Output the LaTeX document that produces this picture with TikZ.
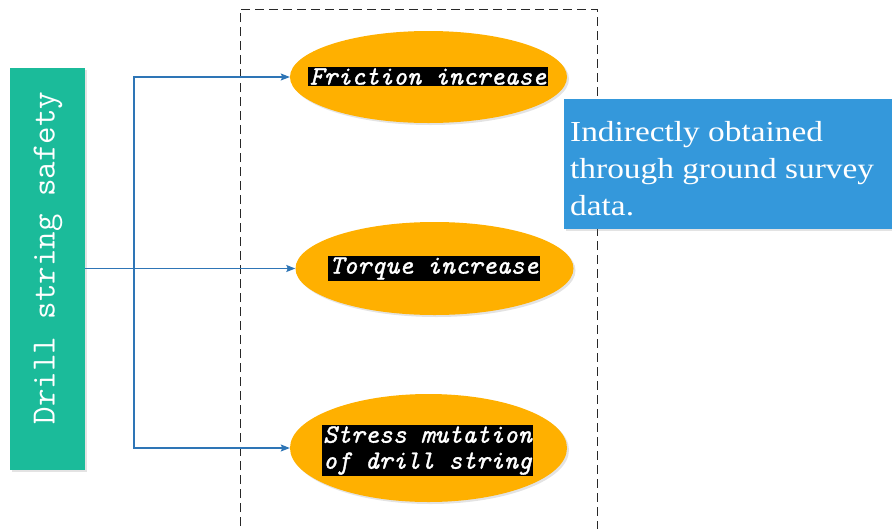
\documentclass[tikz,border=0pt]{standalone}
\usepackage{fontspec}
\setmainfont{Liberation Serif}
\newfontfamily\notefont[FakeStretch=1.15]{Liberation Serif}
\setmonofont{Latin Modern Mono}
\newfontfamily\ovalfont[FakeBold=1.2]{Latin Modern Mono}
\usetikzlibrary{shapes.geometric,shadows,arrows.meta}
\definecolor{boxgreen}{RGB}{27,187,154}
\definecolor{boxblue}{RGB}{52,152,219}
\definecolor{linkblue}{RGB}{46,117,182}
\definecolor{ovalorange}{RGB}{255,176,0}
\definecolor{frame}{RGB}{40,40,40}
\tikzset{
  softshadow/.style={drop shadow={opacity=0.22,shadow xshift=2pt,shadow yshift=-2pt}},
  oval/.style={ellipse,fill=ovalorange,inner sep=0pt,softshadow},
  ovaltext/.style={fill=black,text=white,inner sep=1.5pt,font=\ovalfont\itshape\fontsize{26.5}{26}\selectfont,align=left},
  link/.style={draw=linkblue,line width=1.1pt,-{Stealth[length=9pt,width=7pt,inset=1.5pt]}},
  framebox/.style={draw=frame,line width=1pt,dash pattern=on 9pt off 5pt},
}
\begin{document}
\begin{tikzpicture}[x=1pt,y=-1pt]
\useasboundingbox (0,0) rectangle (892,528);
\clip (0,0) rectangle (892,528);

% dashed frame around the indicators
\draw[framebox] (240,540) -- (240,9) -- (597,9) -- (597,540);

% left category block
\node[fill=boxgreen,minimum width=75pt,minimum height=402pt,inner sep=0pt,softshadow] (g) at (47.5,269) {};
\node[rotate=90,text=white,font=\ttfamily\fontsize{34}{34}\selectfont] (gt) at (48,258) {Drill string safety};

% indicator ovals
\node[oval,minimum width=277pt,minimum height=92pt] (e1) at (428.5,77) {};
\node[oval,minimum width=278pt,minimum height=93pt] (e2) at (434.5,268.5) {};
\node[oval,minimum width=277pt,minimum height=108pt] (e3) at (428.5,448) {};

\node[ovaltext] (t1) at (428,76.5) {Friction increase};
\node[ovaltext] (t2) at (434,268.5) {Torque increase};
\node[ovaltext] (t3) at (427.5,450.5) {Stress mutation\\of drill string};

% connectors
\coordinate (split) at (134,268.5);
\draw[link] (g.east |- e2.west) -- (e2.west);
\draw[link] (split) |- (e1.west);
\draw[link] (split) |- (e3.west);

% note box
\node[fill=boxblue,minimum width=330pt,minimum height=130pt,inner sep=0pt,softshadow] (n) at (729,164) {};
\node[anchor=north west,text=white,align=left,inner sep=0pt,font=\notefont\fontsize{29}{37}\selectfont] (nt) at (570,121) {Indirectly obtained\\through ground survey\\data.};
\end{tikzpicture}
\end{document}
